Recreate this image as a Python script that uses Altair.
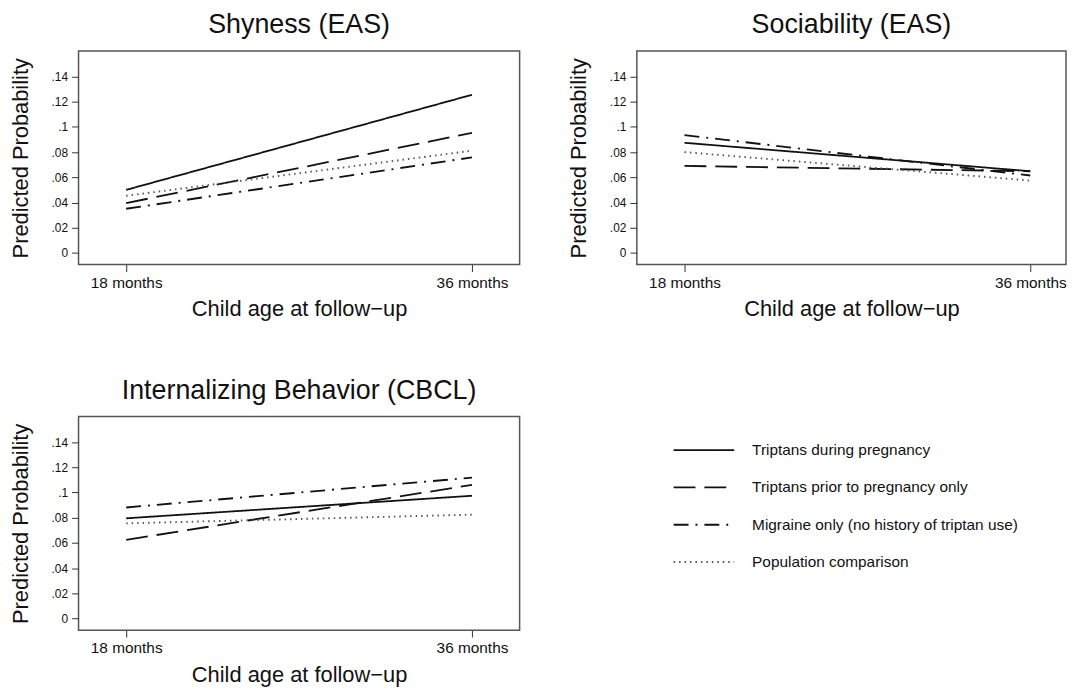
import altair as alt
import pandas as pd

FONT = "Liberation Sans"

groups = ["Triptans during pregnancy",
          "Triptans prior to pregnancy only",
          "Migraine only (no history of triptan use)",
          "Population comparison"]
ages = [18, 36]
y_ticks = [0, 0.02, 0.04, 0.06, 0.08, 0.1, 0.12, 0.14]

# Shyness (EAS)
shy_during = [0.050, 0.1255]
shy_prior = [0.0395, 0.0953]
shy_migraine = [0.035, 0.0758]
shy_population = [0.0453, 0.0811]

# Sociability (EAS)
soc_during = [0.0874, 0.0648]
soc_prior = [0.069, 0.0648]
soc_migraine = [0.0935, 0.0614]
soc_population = [0.080, 0.0574]

# Internalizing Behavior (CBCL)
int_during = [0.0795, 0.0974]
int_prior = [0.0624, 0.106]
int_migraine = [0.0881, 0.1118]
int_population = [0.0755, 0.0824]

dash_range = [[1, 0], [22, 9], [15, 7, 2, 7], [1.5, 4]]
color_range = ["#111111", "#111111", "#111111", "#555555"]
width_range = [1.8, 1.9, 1.9, 1.3]


def frame(series):
    rows = []
    for g, vals in zip(groups, series):
        for a, v in zip(ages, vals):
            rows.append({"group": g, "age": a, "value": v})
    return pd.DataFrame(rows)


dash_enc = alt.StrokeDash("group:N", scale=alt.Scale(domain=groups, range=dash_range), legend=None)
color_enc = alt.Color("group:N", scale=alt.Scale(domain=groups, range=color_range), legend=None)
width_enc = alt.StrokeWidth("group:O", scale=alt.Scale(domain=groups, range=width_range), legend=None)


def panel(title, series, width, xmax):
    return alt.Chart(frame(series)).mark_line(strokeCap="butt").encode(
        x=alt.X("age:Q",
                scale=alt.Scale(domain=[15.52, xmax], nice=False, zero=False),
                axis=alt.Axis(values=ages, labelExpr="datum.value + ' months'",
                              title="Child age at follow−up")),
        y=alt.Y("value:Q",
                scale=alt.Scale(domain=[-0.0093, 0.1603], nice=False, zero=False),
                axis=alt.Axis(values=y_ticks,
                              labelExpr="datum.value == 0 ? '0' : replace(format(datum.value, '.2~f'), '0.', '.')",
                              title="Predicted Probability")),
        strokeDash=dash_enc,
        color=color_enc,
        strokeWidth=width_enc,
        detail="group:N",
    ).properties(
        width=width, height=215,
        title=alt.TitleParams(title, fontSize=27, font=FONT, fontWeight="normal",
                              color="#111111", anchor="middle", offset=12),
    )


p1 = panel("Shyness (EAS)", [shy_during, shy_prior, shy_migraine, shy_population], 444, 38.48)
p2 = panel("Sociability (EAS)", [soc_during, soc_prior, soc_migraine, soc_population], 432, 37.86)
p3_lines = panel("Internalizing Behavior (CBCL)", [int_during, int_prior, int_migraine, int_population], 444, 38.48)

legend_df = pd.DataFrame({"group": groups, "row": list(range(len(groups)))})
legend_y = alt.Y("row:Q", scale=alt.Scale(domain=[-0.902, 4.828], reverse=True, nice=False, zero=False), axis=None)

legend_lines = alt.Chart(legend_df).mark_rule(strokeCap="butt").encode(
    x=alt.value(599), x2=alt.value(660), y=legend_y,
    strokeDash=dash_enc, color=color_enc, strokeWidth=width_enc,
)
legend_text = alt.Chart(legend_df).mark_text(
    align="left", baseline="middle", fontSize=15.5, font=FONT, color="#111111"
).encode(x=alt.value(678), y=legend_y, text="group:N")

p3 = alt.layer(p3_lines, legend_lines, legend_text).resolve_scale(y="independent")

chart = alt.vconcat(
    alt.hconcat(p1, p2, spacing=46),
    p3,
    spacing=55,
).properties(
    padding={"left": 0, "top": 0, "right": 0, "bottom": 0}
).configure_view(
    stroke="#555555", strokeWidth=1.5
).configure_axis(
    grid=False, domain=False,
    labelFont=FONT, titleFont=FONT,
    labelColor="#111111", titleColor="#111111",
    titleFontWeight="normal", titleFontSize=22,
    tickColor="#333333", tickSize=7, tickWidth=1,
).configure_axisY(
    labelFontSize=12, labelPadding=4, titlePadding=19,
).configure_axisX(
    labelFontSize=15.5, labelPadding=4, titlePadding=8,
)

chart.save("out.html", embed_options={"renderer": "svg", "actions": False})
